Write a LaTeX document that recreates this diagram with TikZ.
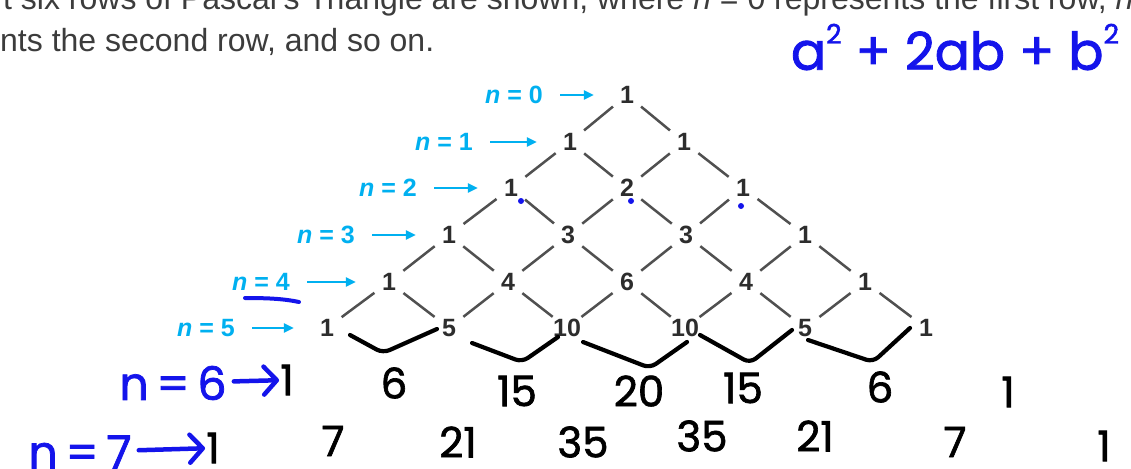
\documentclass[tikz,border=0pt]{standalone}
\usepackage{fontspec}
\setmainfont{Liberation Sans}
\newfontfamily\handfont{Poppins}[FakeBold=1.6]
\usepackage{tikz}
\usetikzlibrary{positioning, arrows.meta}

\definecolor{ink}{RGB}{20,20,235}
\definecolor{cyanlbl}{RGB}{0,176,240}
\definecolor{numgray}{RGB}{45,45,45}
\definecolor{txtgray}{RGB}{60,60,60}
\definecolor{linkgray}{RGB}{80,80,80}

\newcommand{\hsq}{\raisebox{26pt}{\fontsize{27}{27}\selectfont 2}}

\begin{document}
\begin{tikzpicture}[x=1pt, y=-1pt, >=Stealth,
    num/.style={circle, minimum size=36pt, inner sep=0pt, font=\fontsize{25}{25}\selectfont\bfseries, text=numgray},
    link/.style={draw=linkgray, line width=2.5pt},
    rowlbl/.style={font=\fontsize{25}{25}\selectfont\bfseries, text=cyanlbl, inner sep=2pt, anchor=east},
    rowarr/.style={draw=cyanlbl, line width=2.5pt, -{Triangle[length=10pt,width=9pt]}, shorten <=15pt, shorten >=15pt},
    hand/.style={font=\handfont\fontsize{42}{42}\selectfont, inner sep=1pt},
    stroke/.style={line width=4.2pt, line cap=round, line join=round, rounded corners=7pt},
    inkarr/.style={draw=ink, line width=4.5pt, line cap=round, -{Straight Barb[length=13pt,width=28pt,round]}, shorten <=6pt}]
  \useasboundingbox (0,0) rectangle (1131,468);
  \clip (0,0) rectangle (1131,468);
  \fill[white] (0,0) rectangle (1131,468);

  % text cut from the page
  \node[anchor=base west, inner sep=0pt, text=txtgray, font=\fontsize{32}{32}\selectfont] (intro1) at (3,10)
    {t six rows of Pascal's Triangle are shown, where \textit{n} = 0 represents the first row, \textit{n}};
  \node[anchor=base west, inner sep=0pt, text=txtgray, font=\fontsize{32}{32}\selectfont] (intro2) at (0,52)
    {nts the second row, and so on.};

  % the triangle
  \node[num] (p00) at (627,95)  {1};
  \node[num] (p10) at (570,142) {1};
  \node[num] (p11) at (684,142) {1};
  \node[num] (p20) at (511,188) {1};
  \node[num] (p21) at (627,188) {2};
  \node[num] (p22) at (743,188) {1};
  \node[num] (p30) at (449,235) {1};
  \node[num] (p31) at (568,235) {3};
  \node[num] (p32) at (686,235) {3};
  \node[num] (p33) at (805,235) {1};
  \node[num] (p40) at (389,282) {1};
  \node[num] (p41) at (508,282) {4};
  \node[num] (p42) at (627,282) {6};
  \node[num] (p43) at (746,282) {4};
  \node[num] (p44) at (865,282) {1};
  \node[num] (p50) at (327,328) {1};
  \node[num] (p51) at (449,328) {5};
  \node[num] (p52) at (567,328) {10};
  \node[num] (p53) at (685,328) {10};
  \node[num] (p54) at (805,328) {5};
  \node[num] (p55) at (926,328) {1};

  \draw[link] (p00) -- (p10); \draw[link] (p00) -- (p11);
  \draw[link] (p10) -- (p20); \draw[link] (p10) -- (p21);
  \draw[link] (p11) -- (p21); \draw[link] (p11) -- (p22);
  \draw[link] (p20) -- (p30); \draw[link] (p20) -- (p31);
  \draw[link] (p21) -- (p31); \draw[link] (p21) -- (p32);
  \draw[link] (p22) -- (p32); \draw[link] (p22) -- (p33);
  \draw[link] (p30) -- (p40); \draw[link] (p30) -- (p41);
  \draw[link] (p31) -- (p41); \draw[link] (p31) -- (p42);
  \draw[link] (p32) -- (p42); \draw[link] (p32) -- (p43);
  \draw[link] (p33) -- (p43); \draw[link] (p33) -- (p44);
  \draw[link] (p40) -- (p50); \draw[link] (p40) -- (p51);
  \draw[link] (p41) -- (p51); \draw[link] (p41) -- (p52);
  \draw[link] (p42) -- (p52); \draw[link] (p42) -- (p53);
  \draw[link] (p43) -- (p53); \draw[link] (p43) -- (p54);
  \draw[link] (p44) -- (p54); \draw[link] (p44) -- (p55);

  % row labels
  \node[rowlbl] (n0) at (545,95)  {\textit{n} = 0};
  \node[rowlbl] (n1) at (475,142) {\textit{n} = 1};
  \node[rowlbl] (n2) at (419,188) {\textit{n} = 2};
  \node[rowlbl] (n3) at (357,235) {\textit{n} = 3};
  \node[rowlbl] (n4) at (292,282) {\textit{n} = 4};
  \node[rowlbl] (n5) at (237,328) {\textit{n} = 5};
  \draw[rowarr] (n0) -- (p00);
  \draw[rowarr] (n1) -- (p10);
  \draw[rowarr] (n2) -- (p20);
  \draw[rowarr] (n3) -- (p30);
  \draw[rowarr] (n4) -- (p40);
  \draw[rowarr] (n5) -- (p50);

  % handwritten notes
  \node[hand, text=ink, font=\handfont\fontsize{52}{52}\selectfont] (formula) at (955,47) {a\hsq{} + 2ab + b\hsq};
  \fill[ink] (521,201) circle (3pt);
  \fill[ink] (631,201) circle (3pt);
  \fill[ink] (741,206) circle (3pt);
  \draw[ink, line width=4pt, line cap=round] (245,298) .. controls (270,298) and (285,299) .. (299,302);

  \draw[stroke] (350,335) -- (383,353) -- (437,329);
  \draw[stroke] (472,343) -- (522,362) -- (558,337);
  \draw[stroke] (583,342) -- (650,368) -- (687,342);
  \draw[stroke] (700,335) -- (750,363) -- (792,330);
  \draw[stroke] (808,340) -- (873,362) -- (910,328);

  \node[hand] (h60) at (287,380) {1};
  \node[hand] (h61) at (394,383) {6};
  \node[hand] (h62) at (517,391) {15};
  \node[hand] (h63) at (639,391) {20};
  \node[hand] (h64) at (743,388) {15};
  \node[hand] (h65) at (880,387) {6};
  \node[hand] (h66) at (1008,392) {1};

  \node[hand] (h70) at (213,448) {1};
  \node[hand] (h71) at (333,441) {7};
  \node[hand] (h72) at (458,442) {21};
  \node[hand] (h73) at (583,442) {35};
  \node[hand] (h74) at (702,436) {35};
  \node[hand] (h75) at (815,436) {21};
  \node[hand] (h76) at (955,442) {7};
  \node[hand] (h77) at (1104,446) {1};

  \node[hand, text=ink, font=\handfont\fontsize{46}{46}\selectfont] (hl6) at (173,383) {n\,=\,6};
  \node[hand, text=ink, font=\handfont\fontsize{46}{46}\selectfont] (hl7) at (80,452) {n\,=\,7};
  \draw[inkarr] (hl6) -- (h60);
  \draw[inkarr] (hl7) -- (h70);
\end{tikzpicture}
\end{document}
